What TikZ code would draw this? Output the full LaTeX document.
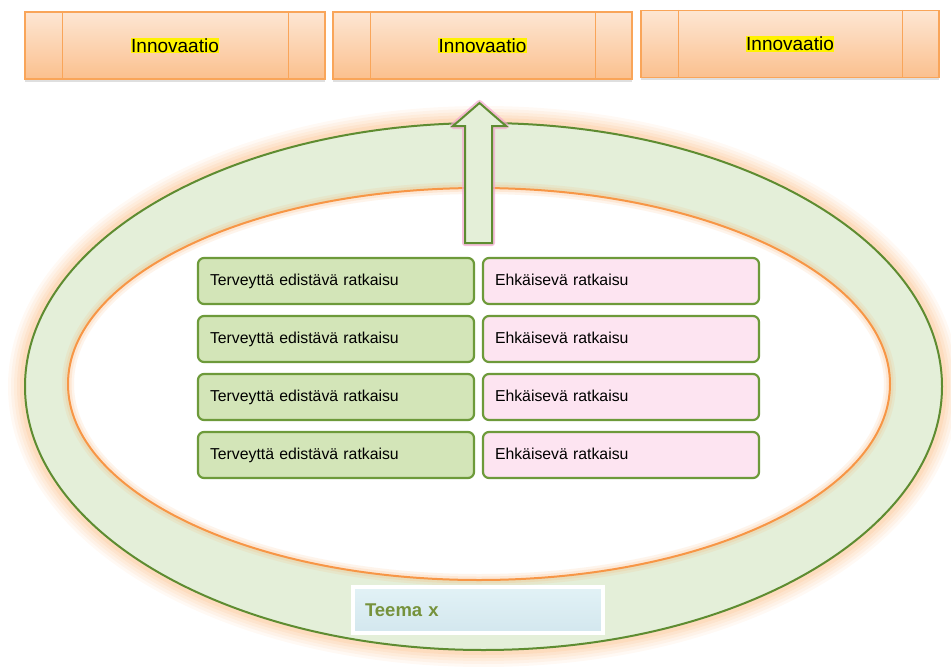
\documentclass[tikz,border=0pt]{standalone}
\usepackage{fontspec}
\setmainfont{Liberation Sans}
\usepackage{tikz}
\usetikzlibrary{shadows}
\definecolor{bandgreen}{HTML}{E4EFD9}
\definecolor{ringgreen}{HTML}{5E8C31}
\definecolor{ringorange}{HTML}{F79646}
\definecolor{glow}{HTML}{F9A860}
\definecolor{inntop}{HTML}{FDE6D3}
\definecolor{innbottom}{HTML}{FBC08E}
\definecolor{innline}{HTML}{F9A559}
\definecolor{boxgreen}{HTML}{D3E5B8}
\definecolor{boxline}{HTML}{6D9A3A}
\definecolor{boxpink}{HTML}{FDE4F1}
\definecolor{teematop}{HTML}{E2F2F6}
\definecolor{teemabottom}{HTML}{D3E7EE}
\definecolor{teematext}{HTML}{76923C}
\definecolor{arrowfill}{HTML}{E4EFD8}
\definecolor{arrowglow}{HTML}{F4A6CF}
\newcommand\hilite[1]{{\setlength{\fboxsep}{0.6pt}\colorbox{yellow}{#1}}}

\begin{document}
\begin{tikzpicture}[
    x=1pt, y=-1pt,
    innbox/.style={draw=innline, line width=1.2pt, top color=inntop, bottom color=innbottom,
        minimum height=67pt, inner sep=0pt, font=\fontsize{19}{22}\selectfont,
        drop shadow={shadow xshift=0pt, shadow yshift=-2.5pt, opacity=.25}},
    innline/.style={draw=innline, line width=1.2pt},
    solbox/.style={draw=boxline, line width=2.2pt, rounded corners=6pt, text width=252pt,
        inner xsep=12pt, inner ysep=0pt, minimum height=46pt, text height=12pt, text depth=3.5pt,
        align=left, font=\fontsize{15.8}{18}\selectfont},
    teema/.style={draw=white, line width=3.5pt, top color=teematop, bottom color=teemabottom,
        minimum width=248pt, minimum height=46pt, text width=226pt, inner xsep=12pt, align=left,
        font=\fontsize{18.5}{22}\selectfont\bfseries, text=teematext,
        drop shadow={shadow xshift=1pt, shadow yshift=-2pt, opacity=.3}}
]
    \useasboundingbox (0,0) rectangle (951,667);

    % outer ring with glow
    \foreach \w/\o in {34/0.07, 28/0.08, 22/0.09, 16/0.11, 10/0.14}
        \draw[glow, line width=\w pt, opacity=\o] (483.5,386.5) ellipse [x radius=458.5pt, y radius=263.5pt];
    \fill[bandgreen] (483.5,386.5) ellipse [x radius=458.5pt, y radius=263.5pt];
    \draw[ringgreen, line width=2pt] (483.5,386.5) ellipse [x radius=458.5pt, y radius=263.5pt];

    % inner ring
    \fill[white] (479,384) ellipse [x radius=411pt, y radius=196pt];
    \foreach \w/\o in {12/0.12, 7/0.16}
        \draw[glow, line width=\w pt, opacity=\o] (479,384) ellipse [x radius=411pt, y radius=196pt];
    \draw[ringorange, line width=2pt] (479,384) ellipse [x radius=411pt, y radius=196pt];

    % innovations
    \node[innbox, minimum width=300pt] (inn1) at (175,45.5) {\hilite{Innovaatio}};
    \node[innbox, minimum width=299pt] (inn2) at (482.5,45.5) {\hilite{Innovaatio}};
    \node[innbox, minimum width=298pt] (inn3) at (790,44) {\hilite{Innovaatio}};
    \foreach \b in {inn1,inn2,inn3} {
        \draw[innline] ([xshift=38pt]\b.north west) -- ([xshift=38pt]\b.south west);
        \draw[innline] ([xshift=-37pt]\b.north east) -- ([xshift=-37pt]\b.south east);
    }

    % arrow up to the middle innovation
    \coordinate (arrtip) at (479.5,103);
    \draw[arrowglow, line width=6pt, line join=round, opacity=.7]
        (465,243) -- (492,243) -- (492,126) -- (506,126) -- (arrtip) -- (453,126) -- (465,126) -- cycle;
    \draw[ringgreen, fill=arrowfill, line width=2pt]
        (465,243) -- (492,243) -- (492,126) -- (506,126) -- (arrtip) -- (453,126) -- (465,126) -- cycle;

    % solutions
    \foreach \i in {0,1,2,3} {
        \node[solbox, fill=boxgreen] (ter\i) at (336,281+58*\i) {Terveyttä edistävä ratkaisu};
        \node[solbox, fill=boxpink] (ehk\i) at (621,281+58*\i) {Ehkäisevä ratkaisu};
    }

    \node[teema] (teema) at (478,610) {Teema x};
\end{tikzpicture}
\end{document}
